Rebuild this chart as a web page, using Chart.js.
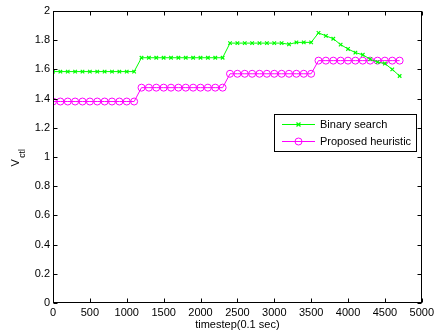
<!DOCTYPE html>
<html>
<head>
<meta charset="utf-8">
<script src="https://cdn.jsdelivr.net/npm/chart.js@4/dist/chart.umd.min.js"></script>
<style>
html,body{margin:0;padding:0;background:#fff;}
canvas{display:block;}
</style>
</head>
<body>
<canvas id="c" width="437" height="335"></canvas>
<script>
const timesteps = [0,100,200,300,400,500,600,700,800,900,1000,1100,
  1200,1300,1400,1500,1600,1700,1800,1900,2000,2100,2200,2300,
  2400,2500,2600,2700,2800,2900,3000,3100,3200,3300,3400,3500,
  3600,3700,3800,3900,4000,4100,4200,4300,4400,4500,4600,4700];
const binarySearch = [1.585,1.585,1.585,1.585,1.585,1.585,1.585,1.585,1.585,1.585,1.585,1.585,
  1.68,1.68,1.68,1.68,1.68,1.68,1.68,1.68,1.68,1.68,1.68,1.68,
  1.78,1.78,1.78,1.78,1.78,1.78,1.78,1.78,1.772,1.785,1.785,1.785,
  1.85,1.83,1.81,1.77,1.74,1.715,1.70,1.67,1.65,1.64,1.60,1.555];
const proposedHeuristic = [1.38,1.38,1.38,1.38,1.38,1.38,1.38,1.38,1.38,1.38,1.38,1.38,
  1.475,1.475,1.475,1.475,1.475,1.475,1.475,1.475,1.475,1.475,1.475,1.475,
  1.57,1.57,1.57,1.57,1.57,1.57,1.57,1.57,1.57,1.57,1.57,1.57,
  1.66,1.66,1.66,1.66,1.66,1.66,1.66,1.66,1.66,1.66,1.66,1.66];
const seriesNames = ['Binary search','Proposed heuristic'];
const xTitle = 'timestep(0.1 sec)';
const yTitleMain = 'V';
const yTitleSub = 'ctl';

const FONT = '"Liberation Sans", Arial, sans-serif';
Chart.defaults.color = '#000';
Chart.defaults.font.family = FONT;

function pts(arr){ return timesteps.map((t,i)=>({x:t,y:arr[i]})); }

const GREEN = '#00ff00', MAG = '#ff00ff';

const framePlugin = {
  id:'frame',
  afterDatasetsDraw(chart){
    const ctx = chart.ctx, a = chart.chartArea;
    const xs = chart.scales.x, ys = chart.scales.y;
    ctx.save();
    ctx.strokeStyle = '#000';
    ctx.lineWidth = 1;
    const L = Math.round(a.left)+0.5, R = Math.round(a.right)-0.5, T = Math.round(a.top)+0.5, B = Math.round(a.bottom)-0.5;
    ctx.strokeRect(L, T, R-L, B-T);
    ctx.beginPath();
    const tl = 4;
    xs.ticks.forEach(tk=>{
      const px = Math.round(xs.getPixelForValue(tk.value))+0.5;
      ctx.moveTo(px,B); ctx.lineTo(px,B-tl);
      ctx.moveTo(px,T); ctx.lineTo(px,T+tl);
    });
    ys.ticks.forEach(tk=>{
      const py = Math.round(ys.getPixelForValue(tk.value))+0.5;
      ctx.moveTo(L,py); ctx.lineTo(L+tl,py);
      ctx.moveTo(R,py); ctx.lineTo(R-tl,py);
    });
    ctx.stroke();

    // Legend
    const lx = 274.5, ly = 114.5, lw = 142, lh = 37;
    ctx.fillStyle = '#fff';
    ctx.fillRect(lx, ly, lw, lh);
    ctx.strokeRect(lx, ly, lw, lh);
    const items = [
      {name: seriesNames[0], color: GREEN, y: 124.5, style:'x'},
      {name: seriesNames[1], color: MAG, y: 141.5, style:'o'}
    ];
    items.forEach(it=>{
      ctx.strokeStyle = it.color;
      ctx.lineWidth = 1;
      ctx.beginPath();
      ctx.moveTo(282, it.y); ctx.lineTo(315, it.y);
      ctx.stroke();
      const mx = 298.5;
      ctx.beginPath();
      if (it.style==='x'){
        ctx.lineWidth = 1.2;
        ctx.moveTo(mx-2,it.y-2); ctx.lineTo(mx+2,it.y+2);
        ctx.moveTo(mx-2,it.y+2); ctx.lineTo(mx+2,it.y-2);
      } else {
        ctx.arc(mx, it.y, 3.5, 0, Math.PI*2);
      }
      ctx.stroke();
      ctx.fillStyle = '#000';
      ctx.font = '11px ' + FONT;
      ctx.textBaseline = 'middle';
      ctx.textAlign = 'left';
      ctx.fillText(it.name, 320, it.y+0.5);
    });

    // Y title with subscript
    ctx.translate(19.3, 166.5);
    ctx.rotate(-Math.PI/2);
    ctx.fillStyle = '#000';
    ctx.textBaseline = 'alphabetic';
    ctx.textAlign = 'left';
    ctx.font = '11px ' + FONT;
    ctx.fillText(yTitleMain, 0, 0);
    const vw = ctx.measureText(yTitleMain).width;
    ctx.font = '8.5px ' + FONT;
    ctx.fillText(yTitleSub, vw + 1.5, 6);
    ctx.restore();
  }
};

new Chart(document.getElementById('c'), {
  type:'line',
  data:{
    datasets:[
      {
        label: seriesNames[0],
        data: pts(binarySearch),
        borderColor: GREEN,
        borderWidth: 1,
        pointStyle: 'crossRot',
        pointRadius: 2.5,
        pointBorderColor: GREEN,
        pointBorderWidth: 1.2,
        pointBackgroundColor: GREEN,
        tension: 0
      },
      {
        label: seriesNames[1],
        data: pts(proposedHeuristic),
        borderColor: MAG,
        borderWidth: 1,
        pointStyle: 'circle',
        pointRadius: 3.5,
        pointBorderColor: MAG,
        pointBorderWidth: 1,
        pointBackgroundColor: 'rgba(0,0,0,0)',
        tension: 0
      }
    ]
  },
  options:{
    responsive:false,
    animation:false,
    devicePixelRatio:1,
    layout:{padding:{left:0,right:14,top:11,bottom:0}},
    plugins:{legend:{display:false},tooltip:{enabled:false}},
    scales:{
      x:{
        type:'linear', min:0, max:5000,
        ticks:{stepSize:500, font:{size:11}, padding:3, maxRotation:0, autoSkip:false,
          callback:(v)=>String(v)},
        grid:{display:false, drawTicks:false},
        border:{display:false},
        title:{display:true, text:xTitle, font:{size:11}, padding:{top:0,bottom:3}},
        afterFit(s){ s.height = 32; }
      },
      y:{
        type:'linear', min:0, max:2,
        ticks:{stepSize:0.2, font:{size:11}, padding:3,
          callback:(v)=>String(Number(v.toFixed(1)))},
        grid:{display:false, drawTicks:false},
        border:{display:false},
        afterFit(s){ s.width = 53; }
      }
    }
  },
  plugins:[framePlugin]
});
</script>
</body>
</html>
